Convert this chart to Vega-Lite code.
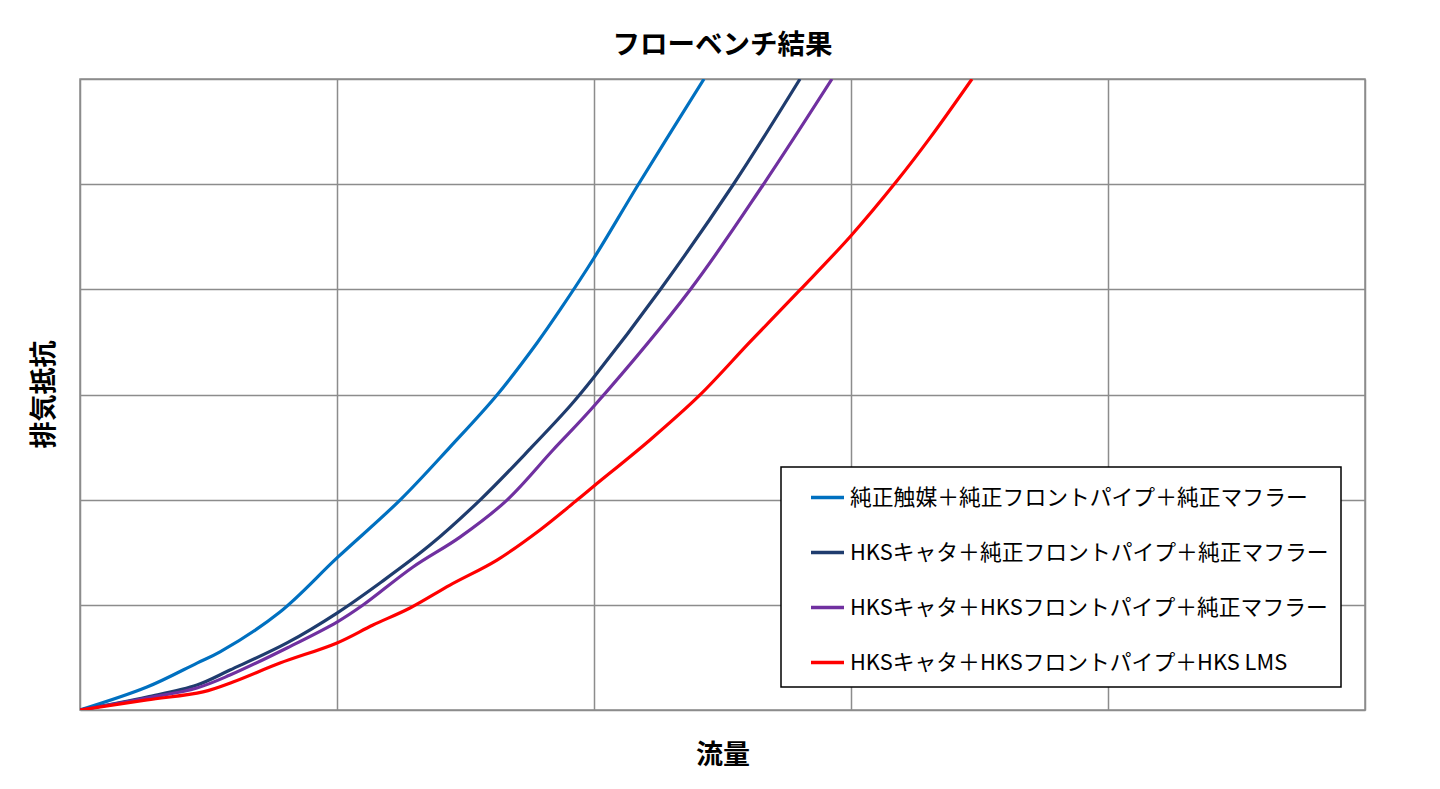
{
  "$schema": "https://vega.github.io/schema/vega-lite/v6.json",
  "description": "フローベンチ結果 - flow bench results of four exhaust setups",
  "autosize": {"type": "none"},
  "width": 1285,
  "height": 631,
  "padding": {"left": 80, "top": 79, "right": 75, "bottom": 79},
  "background": "white",
  "title": {
    "text": "フローベンチ結果",
    "anchor": "middle",
    "font": "Noto Sans CJK JP",
    "fontSize": 27.5,
    "fontWeight": "bold",
    "color": "black",
    "offset": 20
  },
  "data": {
    "values": [
      {"setup": "純正触媒＋純正フロントパイプ＋純正マフラー", "flow": 0, "resist": 0},
      {"setup": "純正触媒＋純正フロントパイプ＋純正マフラー", "flow": 13.03, "resist": 1.09},
      {"setup": "純正触媒＋純正フロントパイプ＋純正マフラー", "flow": 22.76, "resist": 2.23},
      {"setup": "純正触媒＋純正フロントパイプ＋純正マフラー", "flow": 27.24, "resist": 2.76},
      {"setup": "純正触媒＋純正フロントパイプ＋純正マフラー", "flow": 38.91, "resist": 4.66},
      {"setup": "純正触媒＋純正フロントパイプ＋純正マフラー", "flow": 50.0, "resist": 7.23},
      {"setup": "純正触媒＋純正フロントパイプ＋純正マフラー", "flow": 62.26, "resist": 9.98},
      {"setup": "純正触媒＋純正フロントパイプ＋純正マフラー", "flow": 71.98, "resist": 12.5},
      {"setup": "純正触媒＋純正フロントパイプ＋純正マフラー", "flow": 81.13, "resist": 14.98},
      {"setup": "純正触媒＋純正フロントパイプ＋純正マフラー", "flow": 88.91, "resist": 17.45},
      {"setup": "純正触媒＋純正フロントパイプ＋純正マフラー", "flow": 93.38, "resist": 19.02},
      {"setup": "純正触媒＋純正フロントパイプ＋純正マフラー", "flow": 100.0, "resist": 21.49},
      {"setup": "純正触媒＋純正フロントパイプ＋純正マフラー", "flow": 108.56, "resist": 24.96},
      {"setup": "純正触媒＋純正フロントパイプ＋純正マフラー", "flow": 121.4, "resist": 30.0},
      {"setup": "HKSキャタ＋純正フロントパイプ＋純正マフラー", "flow": 0, "resist": 0},
      {"setup": "HKSキャタ＋純正フロントパイプ＋純正マフラー", "flow": 13.03, "resist": 0.62},
      {"setup": "HKSキャタ＋純正フロントパイプ＋純正マフラー", "flow": 22.76, "resist": 1.19},
      {"setup": "HKSキャタ＋純正フロントパイプ＋純正マフラー", "flow": 29.18, "resist": 1.9},
      {"setup": "HKSキャタ＋純正フロントパイプ＋純正マフラー", "flow": 40.27, "resist": 3.19},
      {"setup": "HKSキャタ＋純正フロントパイプ＋純正マフラー", "flow": 50.0, "resist": 4.61},
      {"setup": "HKSキャタ＋純正フロントパイプ＋純正マフラー", "flow": 58.37, "resist": 6.04},
      {"setup": "HKSキャタ＋純正フロントパイプ＋純正マフラー", "flow": 68.09, "resist": 7.84},
      {"setup": "HKSキャタ＋純正フロントパイプ＋純正マフラー", "flow": 77.82, "resist": 9.98},
      {"setup": "HKSキャタ＋純正フロントパイプ＋純正マフラー", "flow": 87.55, "resist": 12.41},
      {"setup": "HKSキャタ＋純正フロントパイプ＋純正マフラー", "flow": 95.33, "resist": 14.45},
      {"setup": "HKSキャタ＋純正フロントパイプ＋純正マフラー", "flow": 100.0, "resist": 15.83},
      {"setup": "HKSキャタ＋純正フロントパイプ＋純正マフラー", "flow": 112.84, "resist": 19.97},
      {"setup": "HKSキャタ＋純正フロントパイプ＋純正マフラー", "flow": 127.04, "resist": 24.96},
      {"setup": "HKSキャタ＋純正フロントパイプ＋純正マフラー", "flow": 140.08, "resist": 30.0},
      {"setup": "HKSキャタ＋HKSフロントパイプ＋純正マフラー", "flow": 0, "resist": 0},
      {"setup": "HKSキャタ＋HKSフロントパイプ＋純正マフラー", "flow": 13.03, "resist": 0.57},
      {"setup": "HKSキャタ＋HKSフロントパイプ＋純正マフラー", "flow": 22.76, "resist": 1.05},
      {"setup": "HKSキャタ＋HKSフロントパイプ＋純正マフラー", "flow": 29.18, "resist": 1.66},
      {"setup": "HKSキャタ＋HKSフロントパイプ＋純正マフラー", "flow": 40.27, "resist": 2.95},
      {"setup": "HKSキャタ＋HKSフロントパイプ＋純正マフラー", "flow": 50.0, "resist": 4.18},
      {"setup": "HKSキャタ＋HKSフロントパイプ＋純正マフラー", "flow": 55.06, "resist": 4.99},
      {"setup": "HKSキャタ＋HKSフロントパイプ＋純正マフラー", "flow": 64.79, "resist": 6.8},
      {"setup": "HKSキャタ＋HKSフロントパイプ＋純正マフラー", "flow": 73.93, "resist": 8.22},
      {"setup": "HKSキャタ＋HKSフロントパイプ＋純正マフラー", "flow": 83.07, "resist": 9.98},
      {"setup": "HKSキャタ＋HKSフロントパイプ＋純正マフラー", "flow": 92.02, "resist": 12.36},
      {"setup": "HKSキャタ＋HKSフロントパイプ＋純正マフラー", "flow": 100.0, "resist": 14.45},
      {"setup": "HKSキャタ＋HKSフロントパイプ＋純正マフラー", "flow": 118.68, "resist": 19.97},
      {"setup": "HKSキャタ＋HKSフロントパイプ＋純正マフラー", "flow": 132.88, "resist": 24.96},
      {"setup": "HKSキャタ＋HKSフロントパイプ＋純正マフラー", "flow": 146.3, "resist": 30.0},
      {"setup": "HKSキャタ＋HKSフロントパイプ＋HKS LMS", "flow": 0, "resist": 0},
      {"setup": "HKSキャタ＋HKSフロントパイプ＋HKS LMS", "flow": 13.03, "resist": 0.48},
      {"setup": "HKSキャタ＋HKSフロントパイプ＋HKS LMS", "flow": 23.93, "resist": 0.86},
      {"setup": "HKSキャタ＋HKSフロントパイプ＋HKS LMS", "flow": 29.77, "resist": 1.33},
      {"setup": "HKSキャタ＋HKSフロントパイプ＋HKS LMS", "flow": 38.91, "resist": 2.23},
      {"setup": "HKSキャタ＋HKSフロントパイプ＋HKS LMS", "flow": 50.0, "resist": 3.19},
      {"setup": "HKSキャタ＋HKSフロントパイプ＋HKS LMS", "flow": 57.0, "resist": 4.04},
      {"setup": "HKSキャタ＋HKSフロントパイプ＋HKS LMS", "flow": 64.2, "resist": 4.85},
      {"setup": "HKSキャタ＋HKSフロントパイプ＋HKS LMS", "flow": 71.98, "resist": 5.94},
      {"setup": "HKSキャタ＋HKSフロントパイプ＋HKS LMS", "flow": 81.13, "resist": 7.13},
      {"setup": "HKSキャタ＋HKSフロントパイプ＋HKS LMS", "flow": 89.49, "resist": 8.56},
      {"setup": "HKSキャタ＋HKSフロントパイプ＋HKS LMS", "flow": 96.69, "resist": 9.98},
      {"setup": "HKSキャタ＋HKSフロントパイプ＋HKS LMS", "flow": 100.0, "resist": 10.65},
      {"setup": "HKSキャタ＋HKSフロントパイプ＋HKS LMS", "flow": 110.89, "resist": 12.84},
      {"setup": "HKSキャタ＋HKSフロントパイプ＋HKS LMS", "flow": 120.62, "resist": 14.98},
      {"setup": "HKSキャタ＋HKSフロントパイプ＋HKS LMS", "flow": 130.35, "resist": 17.5},
      {"setup": "HKSキャタ＋HKSフロントパイプ＋HKS LMS", "flow": 140.08, "resist": 19.97},
      {"setup": "HKSキャタ＋HKSフロントパイプ＋HKS LMS", "flow": 150.0, "resist": 22.55},
      {"setup": "HKSキャタ＋HKSフロントパイプ＋HKS LMS", "flow": 158.95, "resist": 25.16},
      {"setup": "HKSキャタ＋HKSフロントパイプ＋HKS LMS", "flow": 165.37, "resist": 27.2},
      {"setup": "HKSキャタ＋HKSフロントパイプ＋HKS LMS", "flow": 173.54, "resist": 30.0}
    ]
  },
  "mark": {"type": "line", "interpolate": "catmull-rom", "strokeWidth": 3.2, "clip": true},
  "encoding": {
    "x": {
      "field": "flow",
      "type": "quantitative",
      "title": "流量",
      "scale": {"domain": [0, 250], "nice": false},
      "axis": {"values": [0, 50, 100, 150, 200, 250], "titleY": 45, "titleBaseline": "middle"}
    },
    "y": {
      "field": "resist",
      "type": "quantitative",
      "title": "排気抵抗",
      "scale": {"domain": [0, 30], "nice": false},
      "axis": {"values": [0, 5, 10, 15, 20, 25, 30], "titleX": -36, "titleY": 315, "titleBaseline": "middle"}
    },
    "color": {
      "field": "setup",
      "type": "nominal",
      "sort": null,
      "scale": {
        "domain": [
          "純正触媒＋純正フロントパイプ＋純正マフラー",
          "HKSキャタ＋純正フロントパイプ＋純正マフラー",
          "HKSキャタ＋HKSフロントパイプ＋純正マフラー",
          "HKSキャタ＋HKSフロントパイプ＋HKS LMS"
        ],
        "range": ["#0070C0", "#1F3C6E", "#7030A0", "#FF0000"]
      },
      "legend": {
        "title": null,
        "orient": "none",
        "legendX": 701,
        "legendY": 388,
        "direction": "vertical",
        "symbolType": "stroke",
        "symbolSize": 1089,
        "symbolStrokeWidth": 3.5,
        "symbolOffset": 16,
        "labelOffset": 4,
        "labelFont": "Noto Sans CJK JP",
        "labelFontSize": 21.8,
        "labelColor": "black",
        "labelLimit": 600,
        "rowPadding": 24,
        "padding": 12,
        "strokeColor": "black",
        "fillColor": "white"
      }
    }
  },
  "config": {
    "view": {"stroke": "#8c8c8c", "strokeWidth": 1.5},
    "axis": {
      "grid": true,
      "gridColor": "#8c8c8c",
      "gridWidth": 1.5,
      "gridOpacity": 1,
      "labels": false,
      "ticks": false,
      "domain": false,
      "titleFont": "Noto Sans CJK JP",
      "titleFontSize": 27,
      "titleFontWeight": "bold",
      "titleColor": "black"
    },
    "legend": {"strokeWidth": 1.5}
  }
}
